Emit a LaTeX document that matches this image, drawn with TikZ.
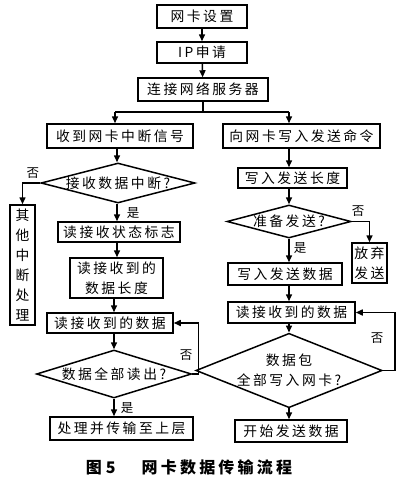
\documentclass[tikz,border=0pt]{standalone}
\usepackage{fontspec}
\setmainfont{Noto Sans CJK SC}[LetterSpace=18]
\usetikzlibrary{shapes.geometric,arrows.meta}
\tikzset{
  lw/.style={line width=1.5pt},
  box/.style={draw, lw, inner sep=0pt, align=center, font=\fontsize{13.8}{20}\selectfont},
  dia/.style={draw, diamond, lw, inner sep=0pt, align=center, font=\fontsize{13.8}{20}\selectfont},
  arr/.style={lw, -{Triangle[length=7pt,width=6pt]}},
  lab/.style={inner sep=0pt, font=\fontsize{12.5}{14}\selectfont},
}
\begin{document}
\begin{tikzpicture}[x=1pt,y=-1pt]
\useasboundingbox (0,0) rectangle (400,482);
% top
\node[box, minimum width=90pt, minimum height=23pt] (b1) at (202,16.5) {网卡设置};
\node[box, minimum width=90pt, minimum height=21pt] (b2) at (202,52.5) {IP申请};
\node[box, minimum width=130pt, minimum height=23pt] (b3) at (203,89.5) {连接网络服务器};
\node[box, minimum width=146pt, minimum height=24pt] (b4) at (120,136) {收到网卡中断信号};
\node[box, minimum width=157pt, minimum height=24pt] (b5) at (301.5,136) {向网卡写入发送命令};
% left column
\node[dia, minimum width=154pt, minimum height=40pt, aspect=3.85] (d1) at (118,183) {接收数据中断?};
\node[box, minimum width=25pt, minimum height=120pt] (b6) at (22.5,265) {其\\他\\中\\断\\处\\理};
\node[box, minimum width=122pt, minimum height=20pt] (b7) at (119,232) {读接收状态标志};
\node[box, minimum width=93pt, minimum height=40pt] (b8) at (116.5,278) {读接收到的\\数据长度};
\node[box, minimum width=126pt, minimum height=20pt] (b9) at (110,323) {读接收到的数据};
\node[dia, minimum width=155pt, minimum height=48pt, aspect=3.2] (d2) at (114,374) {数据全部读出?};
\node[box, minimum width=143pt, minimum height=23pt] (b10) at (121.5,428.5) {处理并传输至上层};
% right column
\node[box, minimum width=109pt, minimum height=20pt] (b11) at (292.5,178) {写入发送长度};
\node[dia, minimum width=124pt, minimum height=33pt, aspect=3.75] (d3) at (289,221.5) {准备发送?};
\node[box, minimum width=35pt, minimum height=40pt] (b12) at (369.5,263) {放弃\\发送};
\node[box, minimum width=114pt, minimum height=22pt] (b13) at (285,274) {写入发送数据};
\node[box, minimum width=127pt, minimum height=21pt] (b14) at (291.5,312.5) {读接收到的数据};
\node[dia, minimum width=165pt, minimum height=65pt, aspect=2.5] (d4) at (289,370.5) {数据包\\全部写入网卡?};
\node[box, minimum width=112pt, minimum height=22pt] (b15) at (291,431) {开始发送数据};
% caption
\node[inner sep=0pt, font=\fontsize{16}{18}\selectfont\bfseries\addfontfeature{LetterSpace=20}] (cap) at (189,467) {图\hspace{4pt}5\hspace{26pt}网卡数据传输流程};
% column coordinates
\coordinate (cl) at (117,0);
\coordinate (cm) at (114,0);
\coordinate (cr) at (289,0);
\coordinate (split) at (203,112);
\coordinate (sl) at (115,112);
\coordinate (sr) at (289,112);
% arrows top
\draw[arr] (b1) -- (b2);
\draw[arr] (b2) -- (b3);
\draw[lw] (b3.south) -- (split);
\draw[lw] (sl) -- (sr);
\draw[arr] (sl) -- (sl |- b4.north);
\draw[arr] (sr) -- (sr |- b5.north);
% left
\draw[arr] (b4.south -| cl) -- (d1.north -| cl);
\draw[arr] (d1.west) -| (b6.north);
\node[lab] (n1) at (33,173) {否};
\draw[arr] (d1.south -| cl) -- (b7.north -| cl);
\node[lab] (y1) at (133,213) {是};
\draw[arr] (b7.south -| cl) -- (b8.north -| cl);
\draw[arr] (b8.south -| cm) -- (b9.north -| cm);
\draw[arr] (b9.south -| cm) -- (d2.north -| cm);
\draw[arr] (d2.east) -- ++(6,0) |- (b9.east);
\node[lab] (n2) at (186,355) {否};
\draw[arr] (d2.south -| cm) -- (b10.north -| cm);
\node[lab] (y2) at (127,408) {是};
% right
\draw[arr] (b5.south -| cr) -- (b11.north -| cr);
\draw[arr] (b11.south -| cr) -- (d3.north -| cr);
\draw[arr] (d3.east) -| (b12.north);
\node[lab] (n3) at (358,211) {否};
\draw[arr] (d3.south -| cr) -- (b13.north -| cr);
\node[lab] (y3) at (300,248) {是};
\draw[arr] (b13.south -| cr) -- (b14.north -| cr);
\draw[arr] (b14.south -| cr) -- (d4.north -| cr);
\draw[arr] (d4.east) -- ++(12,0) |- (b14.east);
\node[lab] (n4) at (377,338) {否};
\draw[arr] (d4.south -| cr) -- (b15.north -| cr);
\end{tikzpicture}
\end{document}
